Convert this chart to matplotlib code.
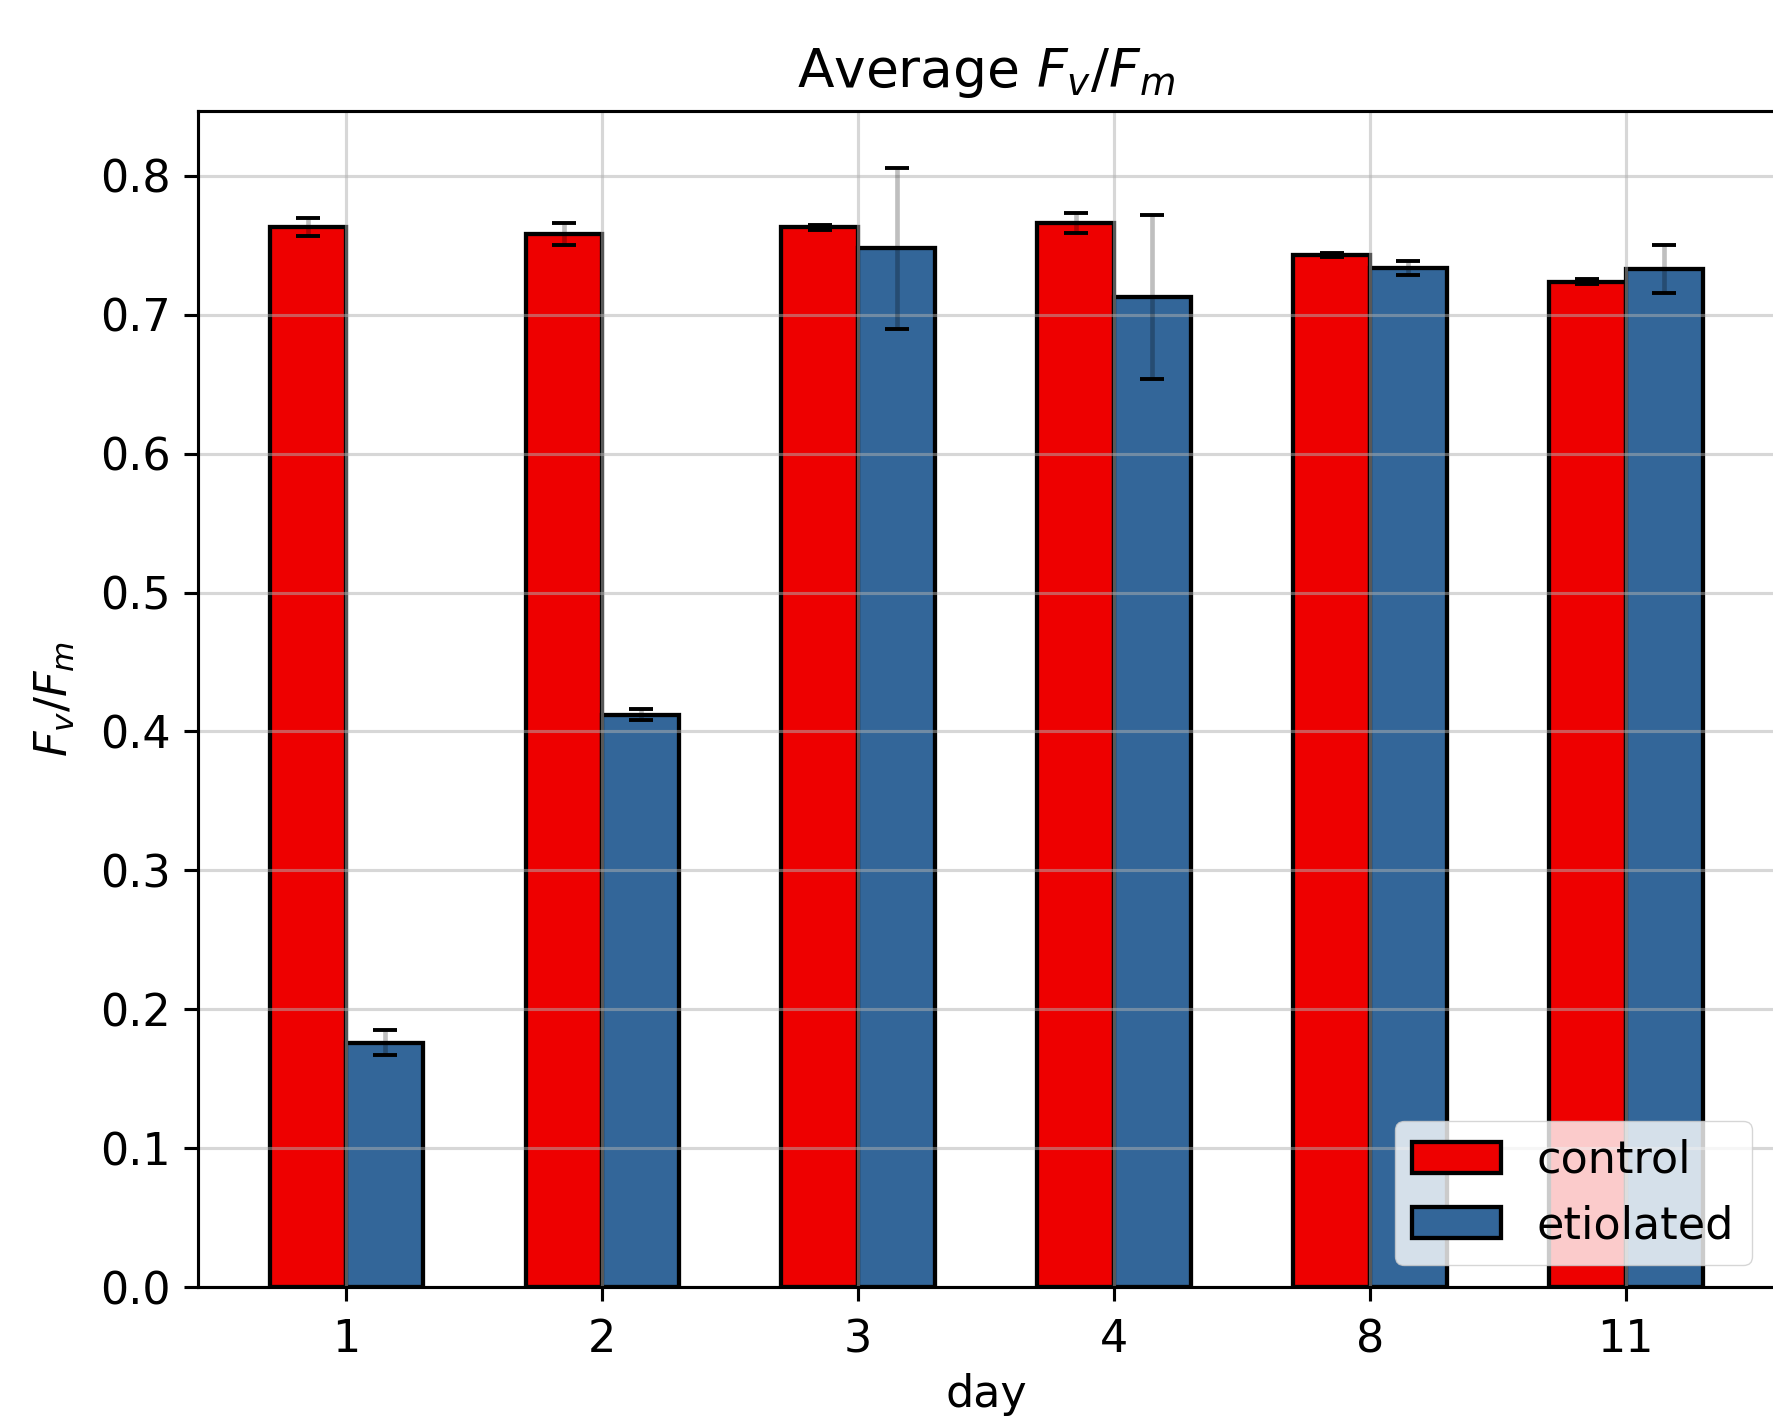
import numpy as np
import matplotlib
matplotlib.use("Agg")
import matplotlib.pyplot as plt

days = ["1", "2", "3", "4", "8", "11"]
control = [0.763, 0.758, 0.763, 0.766, 0.743, 0.724]
control_err = [0.0065, 0.008, 0.002, 0.007, 0.0015, 0.002]
etiolated = [0.176, 0.412, 0.748, 0.713, 0.734, 0.733]
etiolated_err = [0.009, 0.004, 0.058, 0.059, 0.005, 0.0175]

S = 2.8  # scale from the small original render
F = 3.2  # text looks a bit larger than the lines
plt.rcParams["font.size"] = 10 * F
plt.rcParams["axes.linewidth"] = 0.8 * S
plt.rcParams["xtick.major.size"] = 3.5 * S
plt.rcParams["ytick.major.size"] = 3.5 * S
plt.rcParams["xtick.major.width"] = 0.8 * S
plt.rcParams["ytick.major.width"] = 0.8 * S
plt.rcParams["xtick.major.pad"] = 4.5 * S
plt.rcParams["ytick.major.pad"] = 3.5 * S

fig = plt.figure(figsize=(17.73, 14.19), dpi=100)
ax = fig.add_axes([0.1117, 0.093, 0.889, 0.829])

x = np.arange(len(days))
w = 0.3

ax.bar(x - w / 2, control, w, color="#ee0000", edgecolor="black",
       linewidth=1.1 * S, label="control")
ax.bar(x + w / 2, etiolated, w, color="#336699", edgecolor="black",
       linewidth=1.1 * S, label="etiolated")

for xs, ys, es in [(x - w / 2, control, control_err), (x + w / 2, etiolated, etiolated_err)]:
    _, caps, lines = ax.errorbar(xs, ys, yerr=es, fmt="none", ecolor="black",
                                 elinewidth=1.2 * S, capsize=3 * S, capthick=1.0 * S)
    lines[0].set_alpha(0.25)

ax.set_xticks(x)
ax.set_xticklabels(days)
ax.set_xlim(-0.58, 5.58)
ax.set_ylim(0, 0.847)
ax.grid(True, color="#b0b0b0", alpha=0.5, linewidth=0.8 * S)

ax.set_title("Average $F_v/F_m$", fontsize=12 * F, pad=6 * S)
ax.set_xlabel("day", labelpad=3 * S)
ax.set_ylabel("$F_v/F_m$", labelpad=6 * S)
ax.legend(loc="lower right", fontsize=10 * F)

fig.savefig("out.png", dpi=100)
